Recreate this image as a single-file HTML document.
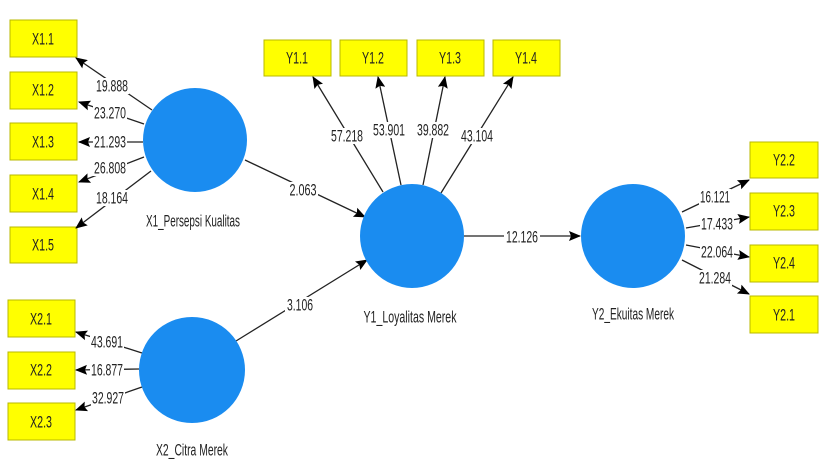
<!DOCTYPE html>
<html><head><meta charset="utf-8"><style>
html,body{margin:0;padding:0;background:#fff;}
svg{display:block;}
text{font-family:"Liberation Sans Narrow","Liberation Sans",sans-serif;fill:#222;}
.n,.b,.l{font-size:17px;text-anchor:middle;dominant-baseline:central;}
rect.y{fill:#ffff00;stroke:#b8b800;stroke-width:1;}
rect.w{fill:#fff;}
line{stroke:#222;stroke-width:1.3;marker-end:url(#a);}
circle{fill:#1a8cf0;}
</style></head><body>
<svg width="826" height="470" viewBox="0 0 826 470">
<defs><marker id="a" markerWidth="12" markerHeight="12" refX="11" refY="6" orient="auto" markerUnits="userSpaceOnUse"><path d="M0,1 L12,6 L0,11 L2,6 Z" fill="#000"/></marker></defs>

<rect class="y" x="10" y="20" width="67" height="37"/><text class="b" x="43" y="39" textLength="22" lengthAdjust="spacingAndGlyphs">X1.1</text>
<rect class="y" x="10" y="72" width="67" height="37"/><text class="b" x="43" y="90" textLength="22" lengthAdjust="spacingAndGlyphs">X1.2</text>
<rect class="y" x="10" y="123" width="67" height="37"/><text class="b" x="43" y="142" textLength="22" lengthAdjust="spacingAndGlyphs">X1.3</text>
<rect class="y" x="10" y="175" width="67" height="37"/><text class="b" x="43" y="194" textLength="22" lengthAdjust="spacingAndGlyphs">X1.4</text>
<rect class="y" x="10" y="227" width="67" height="36"/><text class="b" x="43" y="245" textLength="22" lengthAdjust="spacingAndGlyphs">X1.5</text>

<rect class="y" x="8" y="300" width="67" height="37"/><text class="b" x="41" y="319" textLength="22" lengthAdjust="spacingAndGlyphs">X2.1</text>
<rect class="y" x="8" y="352" width="67" height="37"/><text class="b" x="41" y="370" textLength="22" lengthAdjust="spacingAndGlyphs">X2.2</text>
<rect class="y" x="8" y="403" width="67" height="37"/><text class="b" x="41" y="422" textLength="22" lengthAdjust="spacingAndGlyphs">X2.3</text>

<rect class="y" x="264" y="40" width="67" height="36"/><text class="b" x="297" y="58" textLength="22" lengthAdjust="spacingAndGlyphs">Y1.1</text>
<rect class="y" x="340" y="40" width="67" height="36"/><text class="b" x="373" y="58" textLength="22" lengthAdjust="spacingAndGlyphs">Y1.2</text>
<rect class="y" x="417" y="40" width="67" height="36"/><text class="b" x="450" y="58" textLength="22" lengthAdjust="spacingAndGlyphs">Y1.3</text>
<rect class="y" x="493" y="40" width="67" height="36"/><text class="b" x="526" y="58" textLength="22" lengthAdjust="spacingAndGlyphs">Y1.4</text>

<rect class="y" x="750" y="142" width="68" height="36"/><text class="b" x="784" y="160" textLength="22" lengthAdjust="spacingAndGlyphs">Y2.2</text>
<rect class="y" x="750" y="193" width="68" height="37"/><text class="b" x="784" y="211" textLength="22" lengthAdjust="spacingAndGlyphs">Y2.3</text>
<rect class="y" x="750" y="245" width="68" height="37"/><text class="b" x="784" y="263" textLength="22" lengthAdjust="spacingAndGlyphs">Y2.4</text>
<rect class="y" x="750" y="296" width="68" height="37"/><text class="b" x="784" y="315" textLength="22" lengthAdjust="spacingAndGlyphs">Y2.1</text>

<line x1="152" y1="110" x2="76" y2="58"/>
<line x1="144" y1="124" x2="79" y2="102"/>
<line x1="143" y1="142" x2="79" y2="142"/>
<line x1="144" y1="157" x2="79" y2="182"/>
<line x1="151" y1="171" x2="76" y2="228"/>
<line x1="142" y1="353" x2="76" y2="332"/>
<line x1="139" y1="369" x2="76" y2="370"/>
<line x1="142" y1="387" x2="76" y2="410"/>
<line x1="383" y1="192" x2="313" y2="77"/>
<line x1="401" y1="185" x2="378" y2="77"/>
<line x1="423" y1="185" x2="445" y2="77"/>
<line x1="441" y1="193" x2="513" y2="77"/>
<line x1="682" y1="212" x2="749" y2="180"/>
<line x1="686" y1="228" x2="749" y2="217"/>
<line x1="686" y1="245" x2="749" y2="257"/>
<line x1="682" y1="260" x2="749" y2="294"/>
<line x1="245" y1="160" x2="365" y2="217"/>
<line x1="236" y1="341" x2="367" y2="260"/>
<line x1="464" y1="236" x2="580" y2="236"/>

<circle cx="195" cy="140" r="52"/>
<circle cx="192" cy="370" r="53"/>
<circle cx="412" cy="236" r="52"/>
<circle cx="633" cy="236" r="52"/>

<text class="l" x="193" y="221" textLength="94" lengthAdjust="spacingAndGlyphs">X1_Persepsi Kualitas</text>
<text class="l" x="192" y="450" textLength="72" lengthAdjust="spacingAndGlyphs">X2_Citra Merek</text>
<text class="l" x="410" y="317" textLength="93" lengthAdjust="spacingAndGlyphs">Y1_Loyalitas Merek</text>
<text class="l" x="633" y="314" textLength="82" lengthAdjust="spacingAndGlyphs">Y2_Ekuitas Merek</text>

<g>
<rect class="w" x="95" y="78" width="34" height="16"/><text class="n" x="112" y="86" textLength="32" lengthAdjust="spacingAndGlyphs">19.888</text>
<rect class="w" x="93" y="105" width="34" height="16"/><text class="n" x="110" y="113" textLength="32" lengthAdjust="spacingAndGlyphs">23.270</text>
<rect class="w" x="93" y="134" width="34" height="16"/><text class="n" x="110" y="142" textLength="32" lengthAdjust="spacingAndGlyphs">21.293</text>
<rect class="w" x="93" y="160" width="34" height="16"/><text class="n" x="110" y="168" textLength="32" lengthAdjust="spacingAndGlyphs">26.808</text>
<rect class="w" x="95" y="190" width="34" height="16"/><text class="n" x="112" y="198" textLength="32" lengthAdjust="spacingAndGlyphs">18.164</text>
<rect class="w" x="90" y="334" width="34" height="16"/><text class="n" x="107" y="342" textLength="32" lengthAdjust="spacingAndGlyphs">43.691</text>
<rect class="w" x="90" y="362" width="34" height="16"/><text class="n" x="107" y="370" textLength="32" lengthAdjust="spacingAndGlyphs">16.877</text>
<rect class="w" x="91" y="390" width="34" height="16"/><text class="n" x="108" y="398" textLength="32" lengthAdjust="spacingAndGlyphs">32.927</text>
<rect class="w" x="330" y="128" width="34" height="16"/><text class="n" x="347" y="136" textLength="32" lengthAdjust="spacingAndGlyphs">57.218</text>
<rect class="w" x="372" y="122" width="34" height="16"/><text class="n" x="389" y="130" textLength="32" lengthAdjust="spacingAndGlyphs">53.901</text>
<rect class="w" x="416" y="122" width="34" height="16"/><text class="n" x="433" y="130" textLength="32" lengthAdjust="spacingAndGlyphs">39.882</text>
<rect class="w" x="460" y="128" width="34" height="16"/><text class="n" x="477" y="136" textLength="32" lengthAdjust="spacingAndGlyphs">43.104</text>
<rect class="w" x="699" y="189" width="32" height="16"/><text class="n" x="715" y="197" textLength="30" lengthAdjust="spacingAndGlyphs">16.121</text>
<rect class="w" x="700" y="216" width="34" height="16"/><text class="n" x="717" y="224" textLength="32" lengthAdjust="spacingAndGlyphs">17.433</text>
<rect class="w" x="700" y="244" width="34" height="16"/><text class="n" x="717" y="252" textLength="32" lengthAdjust="spacingAndGlyphs">22.064</text>
<rect class="w" x="698" y="270" width="34" height="16"/><text class="n" x="715" y="278" textLength="32" lengthAdjust="spacingAndGlyphs">21.284</text>
<rect class="w" x="288" y="182" width="30" height="16"/><text class="n" x="303" y="190" textLength="27" lengthAdjust="spacingAndGlyphs">2.063</text>
<rect class="w" x="285" y="297" width="30" height="16"/><text class="n" x="300" y="305" textLength="26" lengthAdjust="spacingAndGlyphs">3.106</text>
<rect class="w" x="504" y="229" width="36" height="16"/><text class="n" x="522" y="237" textLength="32" lengthAdjust="spacingAndGlyphs">12.126</text>
</g>
</svg>
</body></html>
